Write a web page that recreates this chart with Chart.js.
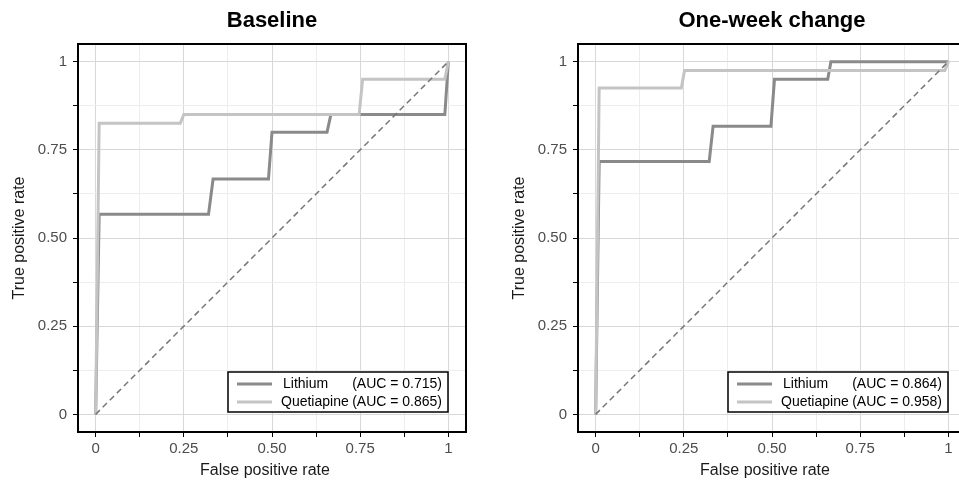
<!DOCTYPE html>
<html>
<head>
<meta charset="utf-8">
<title>ROC curves</title>
<script src="https://cdn.jsdelivr.net/npm/chart.js@4.4.1/dist/chart.umd.min.js"></script>
<style>
  html, body { margin: 0; padding: 0; background: #fff; }
  body { width: 959px; height: 481px; overflow: hidden; position: relative; }
  canvas { position: absolute; top: 0; }
  #baseline { left: 0; }
  #oneweek { left: 500px; }
</style>
</head>
<body>
<canvas id="baseline" width="480" height="481"></canvas>
<canvas id="oneweek" width="480" height="481"></canvas>
<script>
const drugs = ['Lithium', 'Quetiapine'];
const drugColors = ['#8a8a8a', '#c4c4c4'];

// grid every 1/8, labels every 1/4
const gridValues = [0, 0.125, 0.25, 0.375, 0.5, 0.625, 0.75, 0.875, 1];
const tickValues = [0, 0.25, 0.5, 0.75, 1];
const tickLabels = ['0', '0.25', '0.50', '0.75', '1'];

// Baseline ROC points
const baseLithiumFpr = [0, 0.01, 0.32, 0.333, 0.49, 0.5, 0.656, 0.667, 0.99, 1];
const baseLithiumTpr = [0, 0.567, 0.567, 0.667, 0.667, 0.8, 0.8, 0.85, 0.85, 1];
const baseQuetiapineFpr = [0, 0.01, 0.24, 0.25, 0.747, 0.757, 0.99, 1];
const baseQuetiapineTpr = [0, 0.825, 0.825, 0.85, 0.85, 0.95, 0.95, 1];
const baseAuc = [0.715, 0.865];

// One-week change ROC points
const weekLithiumFpr = [0, 0.01, 0.322, 0.333, 0.497, 0.507, 0.658, 0.667, 1];
const weekLithiumTpr = [0, 0.717, 0.717, 0.817, 0.817, 0.95, 0.95, 1, 1];
const weekQuetiapineFpr = [0, 0.01, 0.243, 0.252, 0.99, 1];
const weekQuetiapineTpr = [0, 0.925, 0.925, 0.975, 0.975, 1];
const weekAuc = [0.864, 0.958];

const chanceLine = [0, 1];

const FONT = "'Liberation Sans', Arial, sans-serif";
Chart.defaults.font.family = FONT;

function toPoints(xs, ys) {
    return xs.map((x, i) => ({ x: x, y: ys[i] }));
}

function tickLabel(value) {
    const i = tickValues.indexOf(value);
    return i >= 0 ? tickLabels[i] : '';
}

function gridColor(ctx) {
    if (!ctx.tick) return '#e0e0e0';
    return tickValues.includes(ctx.tick.value) ? '#d8d8d8' : '#ededed';
}

// panel title over the plot box, x-axis title under it
const panelText = {
    id: 'panelText',
    afterDraw(chart, args, opts) {
        const { ctx, chartArea } = chart;
        const mid = (chartArea.left + chartArea.right) / 2;
        ctx.save();
        ctx.textAlign = 'center';
        ctx.textBaseline = 'middle';
        ctx.font = 'bold 22px ' + FONT;
        ctx.fillStyle = '#000';
        ctx.fillText(opts.title, mid, 21);
        ctx.font = '16px ' + FONT;
        ctx.fillStyle = '#1a1a1a';
        ctx.fillText(opts.xTitle, mid - 7, 471);
        ctx.restore();
    }
};

// boxed legend in the lower right corner with AUC values
const aucLegend = {
    id: 'aucLegend',
    afterDatasetsDraw(chart, args, opts) {
        const { ctx, chartArea } = chart;
        const w = 220, h = 40;
        const left = chartArea.right - 238;
        const top = chartArea.bottom - 60;
        ctx.save();
        ctx.fillStyle = '#fff';
        ctx.fillRect(left, top, w, h);
        ctx.strokeStyle = '#000';
        ctx.lineWidth = 1.5;
        ctx.strokeRect(left, top, w, h);
        ctx.font = '14px ' + FONT;
        ctx.textBaseline = 'middle';
        drugs.forEach((name, i) => {
            const y = top + 12 + i * 18;
            ctx.strokeStyle = drugColors[i];
            ctx.lineWidth = 3;
            ctx.beginPath();
            ctx.moveTo(left + 9, y);
            ctx.lineTo(left + 44, y);
            ctx.stroke();
            ctx.fillStyle = '#000';
            ctx.textAlign = 'left';
            ctx.fillText(name, left + (i === 0 ? 55 : 53), y);
            ctx.textAlign = 'right';
            ctx.fillText('(AUC = ' + opts.auc[i].toFixed(3) + ')', left + w - 6, y);
        });
        ctx.restore();
    }
};

// black frame around the plot area
const plotFrame = {
    id: 'plotFrame',
    afterDraw(chart) {
        const { ctx, chartArea } = chart;
        ctx.save();
        ctx.strokeStyle = '#000';
        ctx.lineWidth = 2;
        ctx.strokeRect(chartArea.left, chartArea.top, chartArea.right - chartArea.left, chartArea.bottom - chartArea.top);
        ctx.restore();
    }
};

function axis(isX) {
    return {
        type: 'linear',
        min: -0.05,
        max: 1.05,
        afterBuildTicks: scale => { scale.ticks = gridValues.map(v => ({ value: v })); },
        afterFit: scale => {
            if (isX) scale.height = 49;
            else scale.width = 78;
        },
        grid: {
            color: gridColor,
            lineWidth: 1,
            drawTicks: true,
            tickLength: 5,
            tickColor: '#000',
            tickWidth: 1
        },
        border: { display: false },
        ticks: {
            autoSkip: false,
            maxRotation: 0,
            padding: isX ? 3 : 6,
            color: '#4d4d4d',
            font: { size: 15 },
            callback: value => tickLabel(value)
        },
        title: {
            display: !isX,
            text: 'True positive rate',
            color: '#1a1a1a',
            font: { size: 16 },
            padding: { top: 10, bottom: 0 }
        }
    };
}

function rocChart(id, title, lithium, quetiapine, auc) {
    new Chart(document.getElementById(id), {
        type: 'scatter',
        data: {
            datasets: [
                {
                    label: 'chance',
                    data: toPoints(chanceLine, chanceLine),
                    showLine: true,
                    borderColor: '#777',
                    borderWidth: 1.5,
                    borderDash: [6, 4],
                    pointRadius: 0,
                    order: 0
                },
                {
                    label: drugs[1],
                    data: quetiapine,
                    showLine: true,
                    borderColor: drugColors[1],
                    borderWidth: 3,
                    pointRadius: 0,
                    order: 1
                },
                {
                    label: drugs[0],
                    data: lithium,
                    showLine: true,
                    borderColor: drugColors[0],
                    borderWidth: 3,
                    pointRadius: 0,
                    order: 2
                }
            ]
        },
        options: {
            responsive: false,
            animation: false,
            events: [],
            layout: { padding: { top: 44, right: 14, left: 0, bottom: 0 } },
            scales: {
                x: axis(true),
                y: axis(false)
            },
            plugins: {
                legend: { display: false },
                tooltip: { enabled: false },
                panelText: { title: title, xTitle: 'False positive rate' },
                aucLegend: { auc: auc }
            }
        },
        plugins: [panelText, aucLegend, plotFrame]
    });
}

rocChart('baseline', 'Baseline',
    toPoints(baseLithiumFpr, baseLithiumTpr),
    toPoints(baseQuetiapineFpr, baseQuetiapineTpr),
    baseAuc);

rocChart('oneweek', 'One-week change',
    toPoints(weekLithiumFpr, weekLithiumTpr),
    toPoints(weekQuetiapineFpr, weekQuetiapineTpr),
    weekAuc);
</script>
</body>
</html>
